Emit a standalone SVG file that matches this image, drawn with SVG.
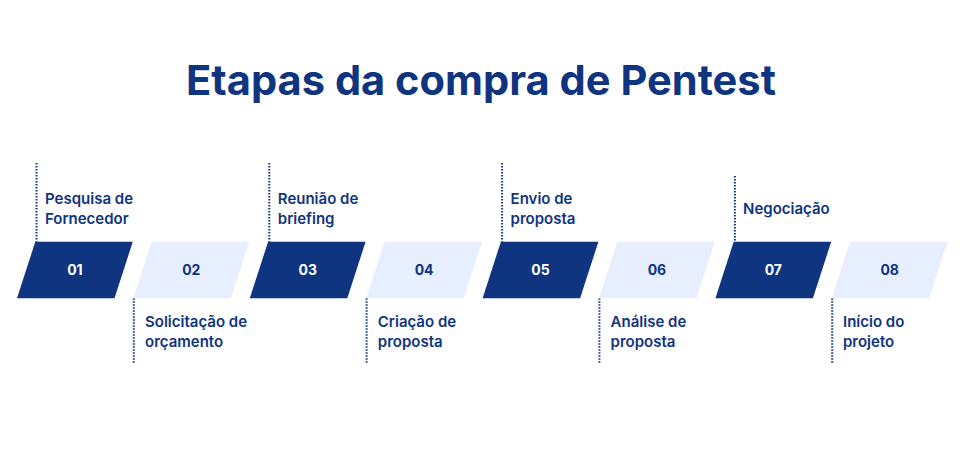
<svg xmlns="http://www.w3.org/2000/svg" width="964" height="450" viewBox="0 0 964 450">
<style>
.title{font-family:Inter,"Noto Sans",sans-serif;font-weight:700;font-size:41.6px;fill:#0F3480;}
.lbl{font-family:Inter,"Noto Sans",sans-serif;font-weight:600;font-size:15px;fill:#0F3480;}
.num{font-family:Inter,"Noto Sans",sans-serif;font-weight:700;font-size:14px;text-anchor:middle;}
.dark{fill:#0F3480;}
.light{fill:#E7EEFD;}
.nd{fill:#FFFFFF;}
.nl{fill:#0F3480;}
.dot{stroke:#0F3480;stroke-width:2;stroke-dasharray:1.5 1.5;fill:none;}
</style>
<rect width="964" height="450" fill="#FFFFFF"/>
<text class="title" x="481" y="94.5" text-anchor="middle">Etapas da compra de Pentest</text>
<g id="connectors">
<line class="dot" x1="36.5" y1="163" x2="36.5" y2="241.7"/>
<line class="dot" x1="133.8" y1="298.3" x2="133.8" y2="364"/>
<line class="dot" x1="269.3" y1="163" x2="269.3" y2="241.7"/>
<line class="dot" x1="366.6" y1="298.3" x2="366.6" y2="364"/>
<line class="dot" x1="502.1" y1="163" x2="502.1" y2="241.7"/>
<line class="dot" x1="599.4" y1="298.3" x2="599.4" y2="364"/>
<line class="dot" x1="734.9" y1="176" x2="734.9" y2="241.7"/>
<line class="dot" x1="832.2" y1="298.3" x2="832.2" y2="364"/>
</g>
<g id="step01">
<polygon class="dark" points="35.3,241.7 132.8,241.7 114.5,298.3 17,298.3"/>
<text class="num nd" x="74.9" y="274.8">01</text>
<text class="lbl" x="45" y="203.5">Pesquisa de</text>
<text class="lbl" x="45" y="223.5">Fornecedor</text>
</g>
<g id="step02">
<polygon class="light" points="151.7,241.7 249.2,241.7 230.9,298.3 133.4,298.3"/>
<text class="num nl" x="191.3" y="274.8">02</text>
<text class="lbl" x="145" y="327">Solicitação de</text>
<text class="lbl" x="145" y="347">orçamento</text>
</g>
<g id="step03">
<polygon class="dark" points="268.1,241.7 365.6,241.7 347.3,298.3 249.8,298.3"/>
<text class="num nd" x="307.7" y="274.8">03</text>
<text class="lbl" x="277.8" y="203.5">Reunião de</text>
<text class="lbl" x="277.8" y="223.5">briefing</text>
</g>
<g id="step04">
<polygon class="light" points="384.5,241.7 482,241.7 463.7,298.3 366.2,298.3"/>
<text class="num nl" x="424.1" y="274.8">04</text>
<text class="lbl" x="377.8" y="327">Criação de</text>
<text class="lbl" x="377.8" y="347">proposta</text>
</g>
<g id="step05">
<polygon class="dark" points="500.9,241.7 598.4,241.7 580.1,298.3 482.6,298.3"/>
<text class="num nd" x="540.5" y="274.8">05</text>
<text class="lbl" x="510.6" y="203.5">Envio de</text>
<text class="lbl" x="510.6" y="223.5">proposta</text>
</g>
<g id="step06">
<polygon class="light" points="617.3,241.7 714.8,241.7 696.5,298.3 599,298.3"/>
<text class="num nl" x="656.9" y="274.8">06</text>
<text class="lbl" x="610.6" y="327">Análise de</text>
<text class="lbl" x="610.6" y="347">proposta</text>
</g>
<g id="step07">
<polygon class="dark" points="733.7,241.7 831.2,241.7 812.9,298.3 715.4,298.3"/>
<text class="num nd" x="773.3" y="274.8">07</text>
<text class="lbl" x="743" y="213.5">Negociação</text>
</g>
<g id="step08">
<polygon class="light" points="850.1,241.7 947.6,241.7 929.3,298.3 831.8,298.3"/>
<text class="num nl" x="889.7" y="274.8">08</text>
<text class="lbl" x="843" y="327">Início do</text>
<text class="lbl" x="843" y="347">projeto</text>
</g>
</svg>
